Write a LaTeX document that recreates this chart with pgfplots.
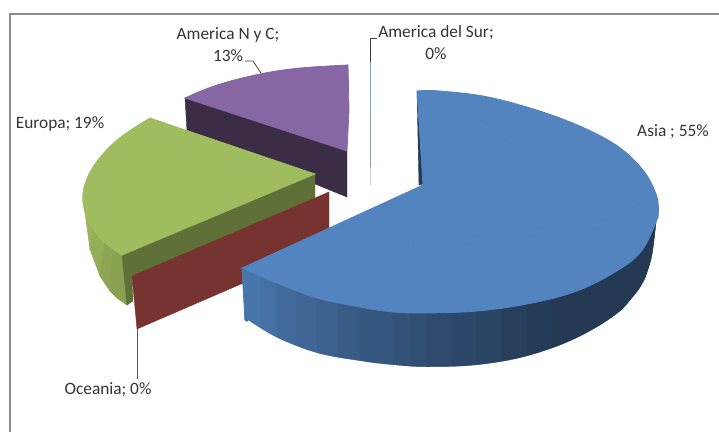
\documentclass[border=0pt]{standalone}
\usepackage{pgfplots}
\pgfplotsset{compat=1.18}
\usepackage{fontspec}
\setmainfont{Carlito}

\definecolor{blueTop}{HTML}{5484BF}
\definecolor{blueL}{HTML}{4A78AE}
\definecolor{blueD}{HTML}{233954}
\definecolor{purpTop}{HTML}{8667A3}
\definecolor{purpSide}{HTML}{3C2D47}
\definecolor{greenTop}{HTML}{9FBD5F}
\definecolor{greenCut}{HTML}{5F7139}
\definecolor{redCut}{HTML}{77332F}
\definecolor{frameC}{HTML}{8C8C8C}
\definecolor{txt}{HTML}{333333}

\tikzset{lbl/.style={font=\fontsize{13}{15}\selectfont,text=txt,inner sep=0pt}}

% one slice of the blue outer wall: mix, x1 top1 bot1, x2 top2 bot2
\newcommand{\wall}[7]{\addplot[fill=blueL!#1!blueD,draw=blueL!#1!blueD,line width=0.7pt,line join=round]
  coordinates {(#2,#3) (#5,#6) (#5,#7) (#2,#4)} -- cycle;}

\begin{document}
\begin{tikzpicture}
\useasboundingbox (0,0) rectangle (539.25pt,324pt);
\begin{axis}[
  at={(0,0)},
  anchor=south west,
  scale only axis,
  width=539.25pt,
  height=324pt,
  xmin=0, xmax=719,
  ymin=0, ymax=432,
  y dir=reverse,
  hide axis,
  clip=true,
]
% frame
\addplot[frameC,line width=1.5pt] coordinates {(10,432) (10,14) (719,14)};

% America N y C
\addplot[fill=purpSide,draw=purpSide,line width=0.3pt] coordinates {(185,98) (347,151) (347,197) (315,184) (187,131)} -- cycle;
\addplot[fill=purpTop,draw=purpTop,line width=0.6pt,smooth,tension=0.6] coordinates {(185,98) (217,85) (260,74) (300,68) (348,65)};
\addplot[fill=purpTop,draw=purpTop,line width=0.6pt] coordinates {(185,98) (348,65) (349,110) (347,151)} -- cycle;

% Europa
\addplot[fill=greenTop!96!black,draw=greenTop!96!black,line width=0.5pt] coordinates {(85,212) (93,229) (90,249)} -- cycle;
\addplot[fill=greenTop!92!black,draw=greenTop!92!black,line width=0.5pt] coordinates {(93,229) (105,243) (100,276) (90,249)} -- cycle;
\addplot[fill=greenTop!88!black,draw=greenTop!88!black,line width=0.5pt] coordinates {(105,243) (113,250) (110,291) (100,276)} -- cycle;
\addplot[fill=greenTop!85!black,draw=greenTop!85!black,line width=0.5pt] coordinates {(113,250) (122,255) (127,305) (117,298) (110,291)} -- cycle;
\addplot[fill=greenCut,draw=greenCut,line width=0.3pt] coordinates {(315,174) (122,255) (127,305) (133,301) (132,276) (315,198)} -- cycle;
\addplot[fill=greenTop,draw=greenTop,line width=0.6pt,smooth,tension=0.6] coordinates {(150,118) (117,140) (93,167) (83,193) (86,216) (93,229) (105,243) (122,255)};
\addplot[fill=greenTop,draw=greenTop,line width=0.6pt] coordinates {(150,118) (315,174) (122,255)} -- cycle;

% Oceania
\addplot[fill=redCut,draw=redCut,line width=0.3pt] coordinates {(329,192) (132,276) (137,329) (329,246)} -- cycle;

% Asia, outer wall
\wall{100}{242}{268}{268}{245}{268}{320}
\wall{95}{245}{268}{320}{261}{274}{330}
\wall{88}{261}{274}{330}{277}{281}{339}
\wall{80}{277}{281}{339}{297}{288}{347}
\wall{72}{297}{288}{347}{317}{295}{354}
\wall{64}{317}{295}{354}{338}{300}{358}
\wall{56}{338}{300}{358}{360}{304}{362}
\wall{49}{360}{304}{362}{393}{309}{367}
\wall{41}{393}{309}{367}{410}{310}{368}
\wall{35}{410}{310}{368}{427}{310}{368}
\wall{29}{427}{310}{368}{452}{309}{367}
\wall{23}{452}{309}{367}{477}{308}{366}
\wall{17}{477}{308}{366}{502}{305}{362}
\wall{10}{502}{305}{362}{527}{301}{357}
\wall{4}{527}{301}{357}{552}{295}{349}
\wall{0}{552}{295}{349}{577}{288}{339}
\wall{0}{577}{288}{339}{600}{278}{326}
\wall{0}{600}{278}{326}{620}{266}{312}
\wall{0}{620}{266}{312}{643}{246}{284}
\wall{0}{643}{246}{284}{652}{232}{257}
\wall{0}{652}{232}{257}{657}{216}{216}
% white stroke just outside the wall, evens out its lower edge
\addplot[white,line width=3.75pt,smooth,tension=0.6] coordinates {(247,322.5) (276,340) (316.5,355.5) (360,363.5) (393,367.5) (427,369.5) (477.5,367.5) (528,358.5) (578.5,340) (622,313) (645,284.5) (654.5,256.5) (659.5,216)};

% Asia, top face
\addplot[fill=blueD,draw=blueD,line width=0.3pt] coordinates {(417,91) (419,185) (423,184)} -- cycle;
\addplot[fill=blueTop,draw=blueTop,line width=0.6pt,smooth,tension=0.6] coordinates {(417,91) (440,91) (493,98) (560,118) (613,143) (643,170) (657,197) (658,217)};
\addplot[fill=blueTop,draw=blueTop,line width=0.6pt,smooth,tension=0.6] coordinates {(658,217) (643,249) (620,269) (577,291) (527,304) (477,311) (427,313) (393,312) (360,307) (317,298) (277,283) (242,268)};
\addplot[fill=blueTop,draw=blueTop,line width=0.6pt] coordinates {(417,91) (658,217) (242,268) (423,185)} -- cycle;

% America del Sur: thin slice and leader
\addplot[color=black!75,line width=0.75pt] coordinates {(377,38) (370.5,38) (370.5,62)};
\addplot[color=cyan!45!teal!70,line width=0.75pt] coordinates {(370.5,62) (370.5,110)};
\addplot[color=teal!40!gray!70,line width=0.75pt] coordinates {(370.5,110) (370.5,167)};
\addplot[color=gray!35,line width=0.75pt] coordinates {(370.5,167) (370.5,185)};

% leaders
\addplot[color=black!75,line width=0.6pt] coordinates {(245,61) (253,61) (261,73)};
\addplot[color=black!65,line width=0.75pt] coordinates {(137,329) (137,379)};

% labels
\node[lbl] at (axis cs:228,35) {America N y C;};
\node[lbl] at (axis cs:228,56) {13\%};
\node[lbl] at (axis cs:436,33) {America del Sur;};
\node[lbl] at (axis cs:436,54) {0\%};
\node[lbl] at (axis cs:673,132) {Asia ; 55\%};
\node[lbl] at (axis cs:60,124) {Europa; 19\%};
\node[lbl] at (axis cs:108,390) {Oceania; 0\%};
\end{axis}
\end{tikzpicture}
\end{document}
